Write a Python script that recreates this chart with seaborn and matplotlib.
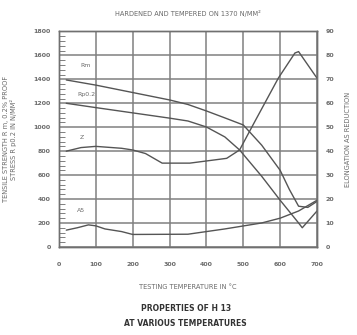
import numpy as np
import pandas as pd
import matplotlib
matplotlib.use("Agg")
import matplotlib.pyplot as plt
import seaborn as sns

# strength curves (left axis, N/mm2)
rm_temp = [20, 100, 200, 300, 350, 400, 450, 500, 550, 600, 625, 650, 675, 700]
rm_vals = [1395, 1352, 1290, 1228, 1190, 1136, 1078, 1019, 850, 640, 480, 340, 330, 380]

rp_temp = [20, 100, 200, 300, 350, 400, 450, 490, 550, 600, 650, 660, 680, 700]
rp_vals = [1200, 1164, 1120, 1076, 1052, 1002, 919, 810, 590, 390, 200, 160, 230, 300]

# ductility curves (right axis, %)
z_temp = [20, 60, 100, 170, 200, 235, 280, 355, 455, 490, 530, 595, 640, 650, 700]
z_vals = [40, 41.5, 42, 41.2, 40.5, 39, 35, 35, 37, 40.5, 52, 70.5, 81, 81.6, 70.5]

a_temp = [20, 50, 80, 100, 125, 170, 200, 350, 450, 550, 600, 650, 700]
a_vals = [7, 8, 9.2, 8.8, 7.5, 6.4, 5.2, 5.3, 7.5, 10, 12, 15, 19.5]

x_ticks = list(range(0, 701, 100))
left_ticks = list(range(0, 1801, 200))
right_ticks = list(range(0, 91, 10))

sns.set_style("white")
plt.rcParams["font.family"] = ["DejaVu Sans"]

grey = "#6a6a6a"
line_c = "#555555"

fig = plt.figure(figsize=(3.57, 3.35), dpi=100)
ax = fig.add_axes([0.165, 0.263, 0.723, 0.643])
ax2 = ax.twinx()

sns.lineplot(x=rm_temp, y=rm_vals, ax=ax, color=line_c, lw=1.0)
sns.lineplot(x=rp_temp, y=rp_vals, ax=ax, color=line_c, lw=1.0)
sns.lineplot(x=z_temp, y=z_vals, ax=ax2, color=line_c, lw=1.0)
sns.lineplot(x=a_temp, y=a_vals, ax=ax2, color=line_c, lw=1.0)

ax.set_xlim(0, 700)
ax.set_ylim(0, 1800)
ax2.set_ylim(0, 90)
ax.set_xticks(x_ticks)
ax.set_yticks(left_ticks)
ax2.set_yticks(right_ticks)
ax.set_yticks(range(0, 1801, 40), minor=True)
ax.tick_params(axis="y", which="minor", direction="in", length=4, width=0.6, color=grey)
ax.tick_params(axis="y", which="major", labelsize=4.5, labelcolor=grey, length=0, pad=6)
ax.tick_params(axis="x", which="major", labelsize=4.5, labelcolor=grey, length=0, pad=11)
ax2.tick_params(axis="y", labelsize=4.5, labelcolor=grey, length=0, pad=6)
for lbl in ax.get_xticklabels() + ax.get_yticklabels() + ax2.get_yticklabels():
    lbl.set_fontweight("bold")

ax.grid(True, which="major", color="#808080", lw=1.1)
for a in (ax, ax2):
    for s in a.spines.values():
        s.set_color("#707070")
        s.set_linewidth(1.0)

ax.set_xlabel("TESTING TEMPERATURE IN °C", fontsize=4.8, color=grey, labelpad=12)
ax.set_ylabel("TENSILE STRENGTH R m, 0.2% PROOF\nSTRESS R p0.2 IN N/MM²",
              fontsize=4.8, color=grey, labelpad=12, linespacing=1.1)
ax2.set_ylabel("ELONGATION AS REDUCTION", fontsize=4.8, color=grey, labelpad=8)
ax.set_title("HARDENED AND TEMPERED ON 1370 N/MM²", fontsize=4.8, color=grey, pad=11)

ax.text(57, 1506, "Rm", fontsize=4.5, color=grey)
ax.text(50, 1265, "Rp0.2", fontsize=4.5, color=grey)
ax.text(57, 905, "Z", fontsize=4.5, color=grey)
ax.text(50, 290, "A5", fontsize=4.5, color=grey)

fig.text(0.52, 0.072, "PROPERTIES OF H 13", ha="center", fontsize=5.5, color="#333333", fontweight="bold")
fig.text(0.52, 0.027, "AT VARIOUS TEMPERATURES", ha="center", fontsize=5.5, color="#333333", fontweight="bold")

fig.savefig("out.png", dpi=100)
